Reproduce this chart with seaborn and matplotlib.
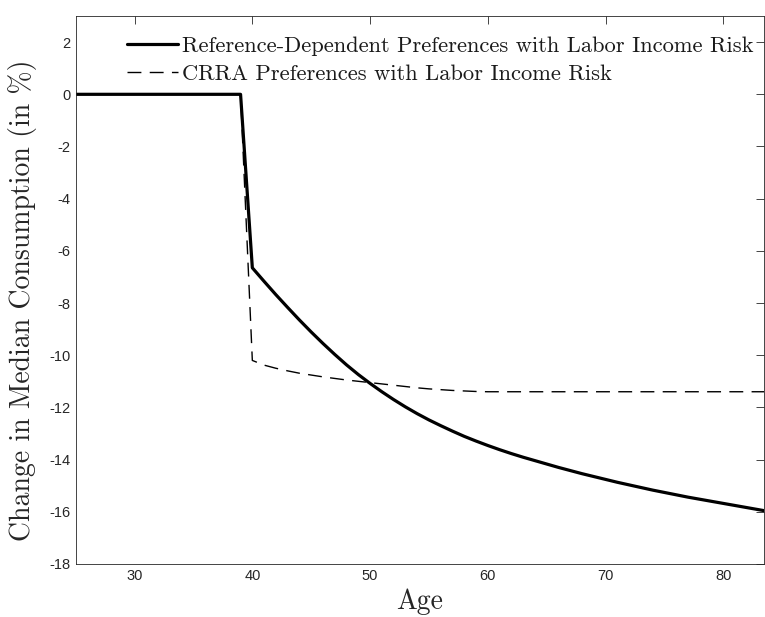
import numpy as np
import pandas as pd
import matplotlib
matplotlib.use("Agg")
import matplotlib.pyplot as plt
import seaborn as sns

ages = list(range(25, 85))
rd_after_40 = [-6.65, -7.17, -7.68, -8.17, -8.65, -9.11, -9.55, -9.97, -10.37, -10.74,
               -11.08, -11.40, -11.70, -11.98, -12.24, -12.48, -12.70, -12.91, -13.11, -13.29,
               -13.46, -13.62, -13.77, -13.91, -14.04, -14.17, -14.30, -14.42, -14.54, -14.65,
               -14.76, -14.87, -14.97, -15.07, -15.17, -15.26, -15.35, -15.44, -15.52, -15.60,
               -15.68, -15.76, -15.84, -15.92, -16.00]
crra_after_40 = [-10.20, -10.38, -10.50, -10.60, -10.69, -10.76, -10.83, -10.89, -10.95, -11.00,
                 -11.05, -11.10, -11.15, -11.20, -11.25, -11.29, -11.32, -11.35, -11.37, -11.39,
                 -11.40] + [-11.40] * 24
zeros_before = [0.0] * 15  # ages 25..39

rd_values = zeros_before + rd_after_40
crra_values = zeros_before + crra_after_40

label_rd = "Reference-Dependent Preferences with Labor Income Risk"
label_crra = "CRRA Preferences with Labor Income Risk"
x_ticks = [30, 40, 50, 60, 70, 80]
y_ticks = list(range(-18, 3, 2))

df_rd = pd.DataFrame({"Age": ages, "Change": rd_values})
df_crra = pd.DataFrame({"Age": ages, "Change": crra_values})

sns.set_style("white")
plt.rcParams["axes.unicode_minus"] = False
plt.rcParams["font.family"] = ["Liberation Sans", "DejaVu Sans"]

fig = plt.figure(figsize=(7.65, 6.17), dpi=100)
ax = fig.add_axes([0.099, 0.086, 0.8997, 0.888])

sns.lineplot(data=df_rd, x="Age", y="Change", ax=ax, color="black", linewidth=2.3,
             label=label_rd)
sns.lineplot(data=df_crra, x="Age", y="Change", ax=ax, color="black", linewidth=1.0,
             dashes=False, label=label_crra)
ax.lines[1].set_dashes((10, 6))

ax.set_xlim(25, 83.46)
ax.set_ylim(-18, 3)
ax.set_xticks(x_ticks)
ax.set_yticks(y_ticks)
ax.tick_params(direction="in", length=6, width=0.6, colors="#262626", labelsize=10.5,
               top=True, right=True, labelcolor="#262626")
for s in ax.spines.values():
    s.set_color("#262626")
    s.set_linewidth(0.6)
    s.set_visible(True)

ax.set_xlabel("Age", fontfamily="cmr10", fontsize=20, color="#262626", labelpad=4)
ax.set_ylabel("Change in Median Consumption (in %)", fontfamily="cmr10", fontsize=20,
              color="#262626")
ax.yaxis.set_label_coords(-0.057, 0.482)

leg = ax.legend(loc="upper left", bbox_to_anchor=(0.045, 1.0), frameon=False,
                prop={"family": "cmr10", "size": 16.2}, handlelength=2.27,
                handletextpad=0.18, labelspacing=0.35, borderaxespad=0.5)
for t in leg.get_texts():
    t.set_color("#1a1a1a")

fig.savefig("out.png", dpi=100)
